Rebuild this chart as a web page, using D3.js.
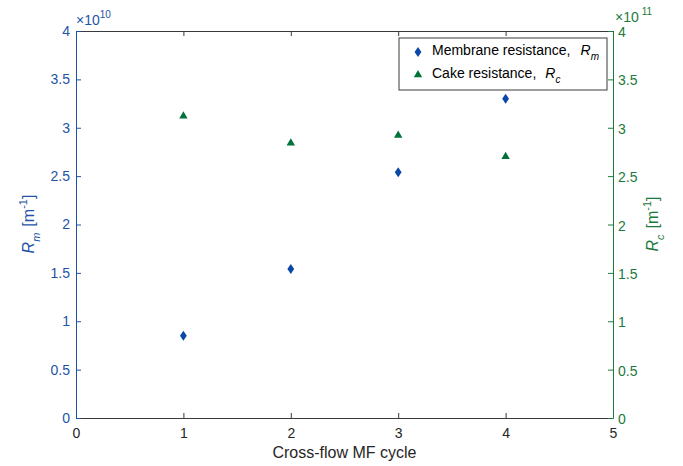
<!DOCTYPE html>
<html>
<head>
<meta charset="utf-8">
<script src="https://cdn.jsdelivr.net/npm/d3@7"></script>
<style>
body { margin: 0; background: #fff; }
svg text { font-family: "Liberation Sans", Arial, sans-serif; }
</style>
</head>
<body>
<svg id="svg"></svg>
<script>
// data
const cycles = [1, 2, 3, 4];
const rm = [0.85, 1.54, 2.54, 3.30];   // x 1e10
const rc = [3.13, 2.85, 2.93, 2.71];   // x 1e11
const xTicks = [0, 1, 2, 3, 4, 5];
const yTicks = [0, 0.5, 1, 1.5, 2, 2.5, 3, 3.5, 4];

const width = 683, height = 466,
	m = [31, 70, 48, 76],   // top, right, bottom, left
	blue = "#1d54a6", blueMk = "#0a48a8",
	green = "#1c7a3c", greenMk = "#00723a",
	frame = "#3a3a3a";

const svg = d3.select("#svg").attr("width", width).attr("height", height);

const x = d3.scaleLinear().domain([0, 5]).range([m[3], width - m[1]]);
const yL = d3.scaleLinear().domain([0, 4]).range([height - m[2], m[0]]);
const yR = d3.scaleLinear().domain([0, 4]).range([height - m[2], m[0]]);

const fmt = d => d3.format("")(d);

// bottom axis
svg.append("g")
	.attr("transform", `translate(0,${height - m[2]})`)
	.call(d3.axisBottom(x).tickValues(xTicks).tickSizeInner(-5).tickSizeOuter(0).tickPadding(10).tickFormat(fmt))
	.call(g => g.select(".domain").attr("stroke", frame))
	.call(g => g.selectAll(".tick line").attr("stroke", frame))
	.call(g => g.selectAll(".tick text").attr("fill", "#262626").attr("font-size", 14));

// top axis
svg.append("g")
	.attr("transform", `translate(0,${m[0]})`)
	.call(d3.axisTop(x).tickValues(xTicks).tickSizeInner(-5).tickSizeOuter(0).tickFormat(""))
	.call(g => g.select(".domain").attr("stroke", frame))
	.call(g => g.selectAll(".tick line").attr("stroke", frame));

// left axis
svg.append("g")
	.attr("transform", `translate(${m[3]},0)`)
	.call(d3.axisLeft(yL).tickValues(yTicks).tickSizeInner(-5).tickSizeOuter(0).tickPadding(6).tickFormat(fmt))
	.call(g => g.select(".domain").attr("stroke", blue))
	.call(g => g.selectAll(".tick line").attr("stroke", blue))
	.call(g => g.selectAll(".tick text").attr("fill", blue).attr("font-size", 14));

// right axis
svg.append("g")
	.attr("transform", `translate(${width - m[1]},0)`)
	.call(d3.axisRight(yR).tickValues(yTicks).tickSizeInner(-5).tickSizeOuter(0).tickPadding(5).tickFormat(fmt))
	.call(g => g.select(".domain").attr("stroke", green))
	.call(g => g.selectAll(".tick line").attr("stroke", green))
	.call(g => g.selectAll(".tick text").attr("fill", green).attr("font-size", 14).attr("dy", "0.4em"));

// exponents
const expL = svg.append("text").attr("x", m[3]).attr("y", 25).attr("fill", blue).attr("font-size", 14);
expL.append("tspan").text("\u00d710");
expL.append("tspan").attr("dy", -7).attr("font-size", 10).text("10");
const expR = svg.append("text").attr("x", width - m[1] + 2).attr("y", 22).attr("fill", green).attr("font-size", 14);
expR.append("tspan").text("\u00d710");
expR.append("tspan").attr("dy", -7).attr("dx", 3).attr("font-size", 10).text("11");

// axis titles
svg.append("text")
	.attr("x", x(2.5)).attr("y", height - 8)
	.attr("text-anchor", "middle").attr("font-size", 16).attr("fill", "#262626")
	.text("Cross-flow MF cycle");

function yTitle(tx, sub, color) {
	const t = svg.append("text")
		.attr("transform", `translate(${tx},224) rotate(-90)`)
		.attr("text-anchor", "middle").attr("font-size", 16).attr("fill", color);
	t.append("tspan").attr("font-style", "italic").text("R");
	t.append("tspan").attr("font-style", "italic").attr("font-size", 11).attr("dy", 6).text(sub);
	t.append("tspan").attr("dy", -6).attr("dx", 6).text("[m");
	t.append("tspan").attr("font-size", 11).attr("dy", -7).text("-1");
	t.append("tspan").attr("dy", 7).text("]");
}
yTitle(34, "m", blue);
yTitle(658, "c", green);

// markers
const diamond = "M0,-5L3.4,0L0,5L-3.4,0Z";
const tri = "M0,-4L4.2,3.3L-4.2,3.3Z";

svg.selectAll("path.rm")
	.data(cycles.map((c, i) => ({ c, v: rm[i] })))
	.enter().append("path")
	.attr("class", "rm")
	.attr("d", diamond)
	.attr("transform", d => `translate(${x(d.c)},${yL(d.v)})`)
	.attr("fill", blueMk);

svg.selectAll("path.rc")
	.data(cycles.map((c, i) => ({ c, v: rc[i] })))
	.enter().append("path")
	.attr("class", "rc")
	.attr("d", tri)
	.attr("transform", d => `translate(${x(d.c)},${yR(d.v)})`)
	.attr("fill", greenMk);

// legend
const lg = svg.append("g").attr("transform", "translate(399,38)");
lg.append("rect").attr("width", 208).attr("height", 52)
	.attr("fill", "#fff").attr("stroke", frame).attr("stroke-width", 1);
lg.append("path").attr("d", diamond).attr("transform", "translate(19,14)").attr("fill", blueMk);
lg.append("path").attr("d", tri).attr("transform", "translate(19,36)").attr("fill", greenMk);
const l1 = lg.append("text").attr("x", 33).attr("y", 17).attr("font-size", 14).attr("fill", "#000");
l1.append("tspan").text("Membrane resistance,");
l1.append("tspan").attr("dx", 10).attr("font-style", "italic").text("R");
l1.append("tspan").attr("font-style", "italic").attr("font-size", 10).attr("dy", 5).text("m");
const l2 = lg.append("text").attr("x", 33).attr("y", 40).attr("font-size", 14).attr("fill", "#000");
l2.append("tspan").text("Cake resistance,");
l2.append("tspan").attr("dx", 9).attr("font-style", "italic").text("R");
l2.append("tspan").attr("font-style", "italic").attr("font-size", 10).attr("dy", 5).text("c");
</script>
</body>
</html>
